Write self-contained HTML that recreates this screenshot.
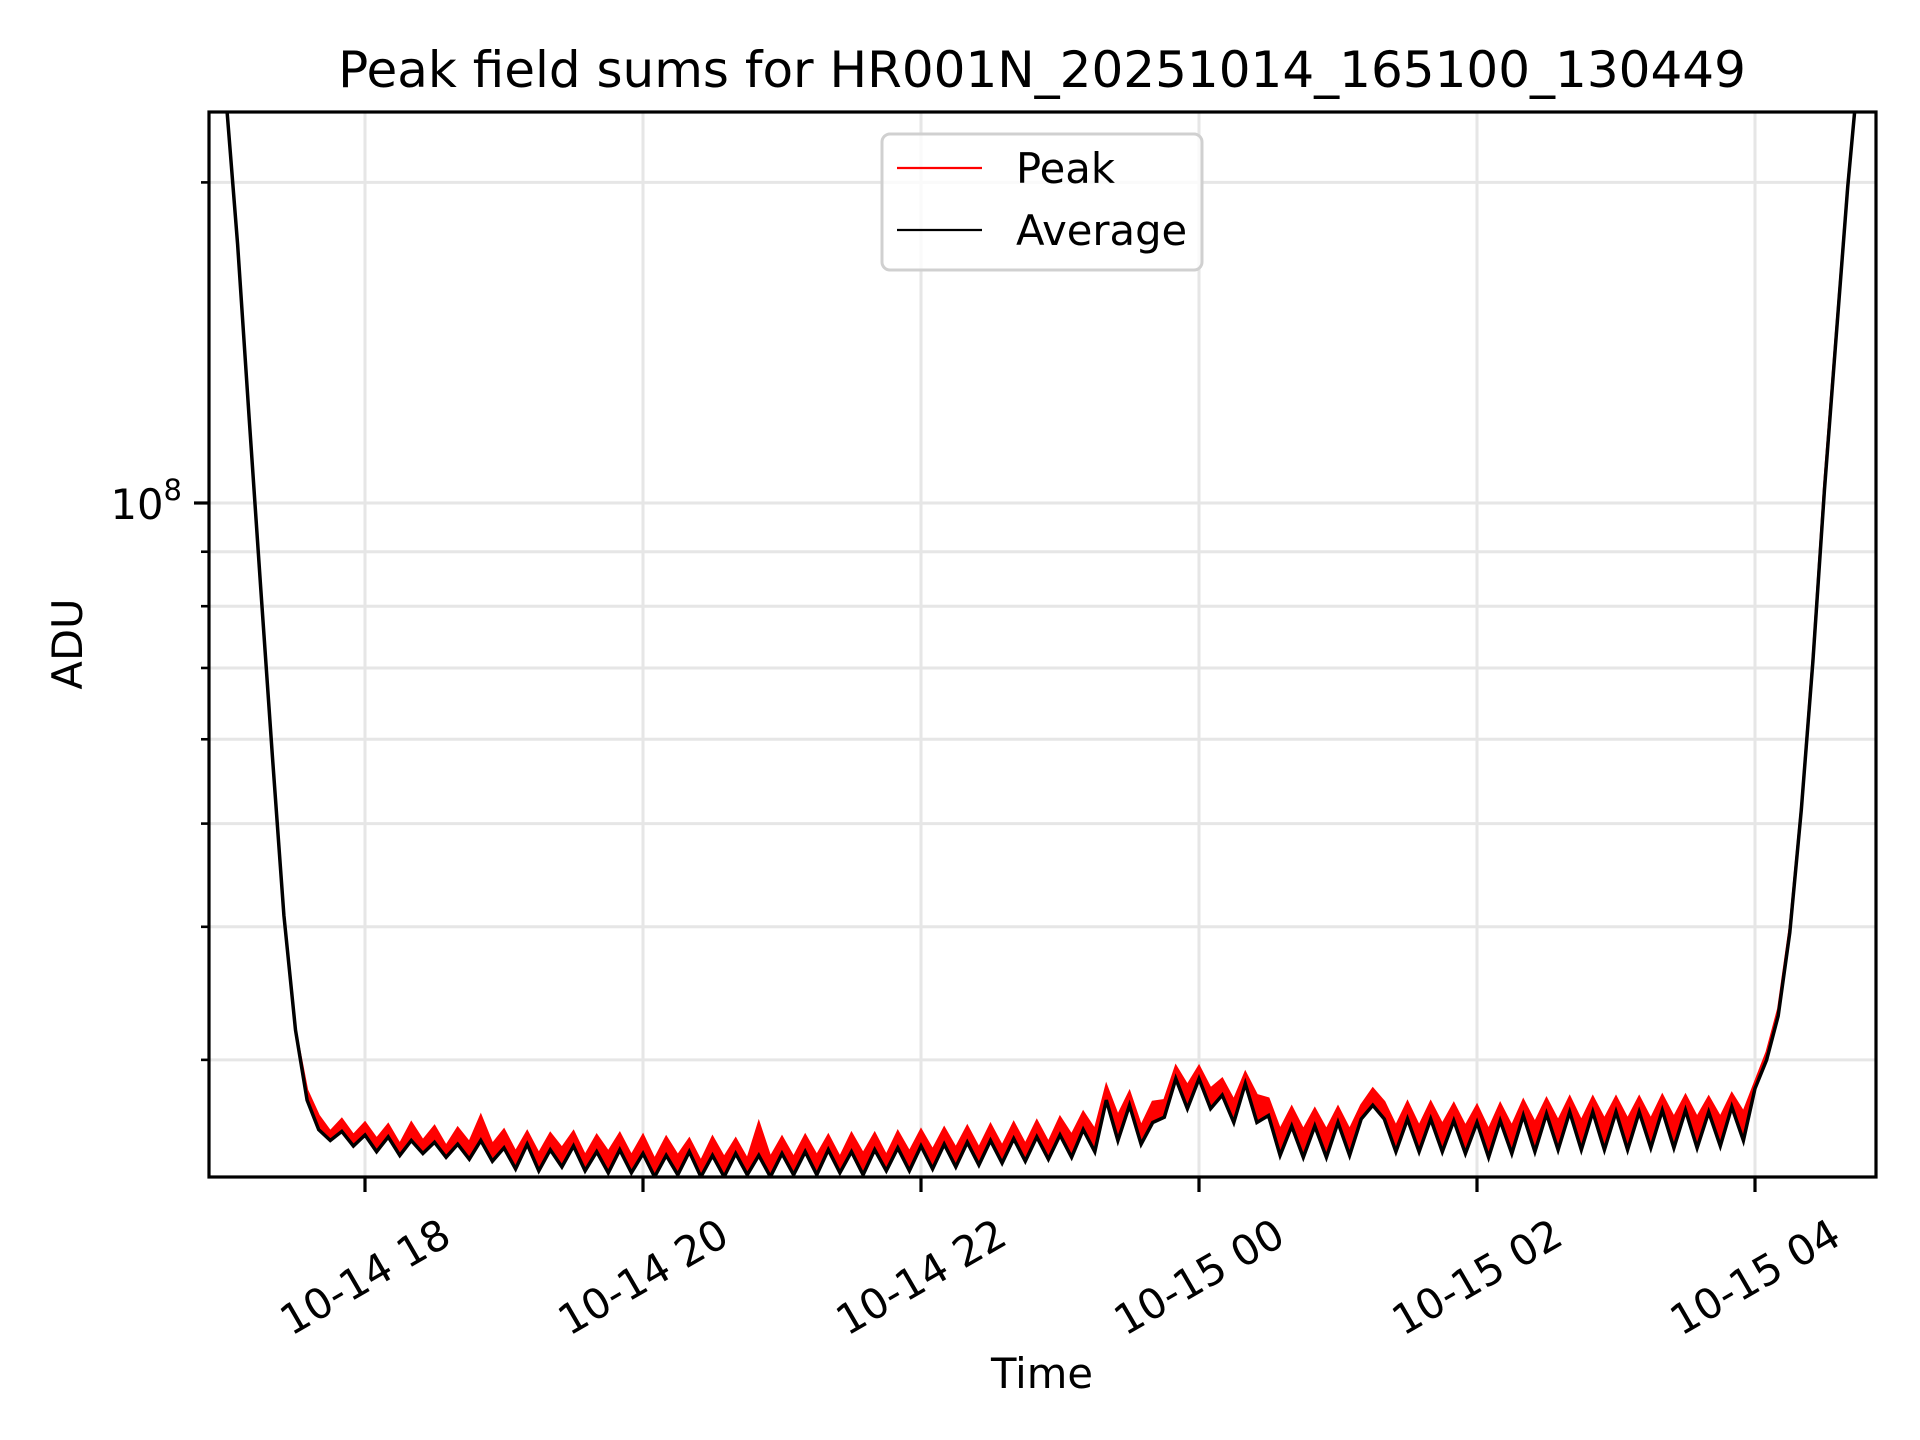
<!DOCTYPE html>
<html><head><meta charset="utf-8"><style>
html,body{margin:0;padding:0;background:#fff;}
svg{display:block;font-family:"DejaVu Sans","Liberation Sans",sans-serif;}
</style></head><body>
<svg id="chart" width="1920" height="1440" viewBox="0 0 1920 1440" xmlns="http://www.w3.org/2000/svg">
<defs><clipPath id="plotclip"><rect x="209" y="112" width="1667" height="1065"/></clipPath></defs>
<rect x="0" y="0" width="1920" height="1440" fill="#fff"/>
<g id="grid"></g>
<g id="series" clip-path="url(#plotclip)"></g>
<rect x="209" y="112" width="1667" height="1065" fill="none" stroke="#000" stroke-width="3.2"/>
<g id="ticks"></g>
<text x="1042" y="87" font-size="50" text-anchor="middle">Peak field sums for HR001N_20251014_165100_130449</text>
<text x="1042" y="1388" font-size="41.7" text-anchor="middle">Time</text>
<text transform="translate(82,644) rotate(-90)" font-size="41.7" text-anchor="middle">ADU</text>
<g>
<rect x="882" y="134" width="320" height="136" rx="8" fill="#fff" fill-opacity="0.8" stroke="#d0d0d0" stroke-width="3"/>
<line x1="897" y1="168" x2="982" y2="168" stroke="#ff0000" stroke-width="2.2"/>
<text x="1016" y="183" font-size="41.7">Peak</text>
<line x1="897" y1="230" x2="982" y2="230" stroke="#000" stroke-width="2.2"/>
<text x="1016" y="245" font-size="41.7">Average</text>
</g>
</svg>
<script>
// time points: 5-minute samples starting 16:55 (minutes after 18:00)
const startMin = -65;
const stepMin = 5;
// values in units of 1e7 ADU
const peakValues = [30,24,17.5,12,8.3,5.8,4.1,3.2,2.81,
2.66,2.57,2.64,2.55,
2.62,2.53,2.61,2.50,2.62,2.52,2.60,2.49,2.59,2.51,2.66,2.50,
2.58,2.46,2.57,2.45,2.56,2.48,2.57,2.44,2.55,2.46,2.56,2.44,
2.55,2.42,2.54,2.44,2.53,2.41,2.54,2.43,2.53,2.42,2.62,2.43,
2.54,2.43,2.55,2.44,2.55,2.43,2.56,2.45,2.56,2.44,2.57,2.46,
2.58,2.47,2.59,2.48,2.60,2.48,2.61,2.49,2.62,2.50,2.63,2.51,
2.65,2.55,2.68,2.58,2.84,2.66,2.80,2.60,2.74,2.75,2.96,2.84,
2.96,2.82,2.88,2.75,2.92,2.78,2.76,2.58,2.71,2.58,2.70,2.58,
2.71,2.58,2.72,2.82,2.74,2.60,2.74,2.60,2.74,2.61,2.73,2.60,
2.72,2.58,2.73,2.60,2.75,2.62,2.76,2.63,2.77,2.63,2.77,2.64,
2.77,2.64,2.77,2.64,2.78,2.65,2.78,2.65,2.77,2.65,2.79,2.68,
2.86,3.05,3.35,4.0,5.2,7.2,10.5,14.5,20,26,32,38];
const averageValues = [30,24,17.5,12,8.3,5.8,4.1,3.2,2.75,
2.58,2.52,2.57,2.49,
2.55,2.46,2.54,2.44,2.52,2.45,2.51,2.43,2.50,2.42,2.52,2.41,
2.48,2.37,2.50,2.36,2.47,2.38,2.49,2.36,2.46,2.35,2.47,2.35,
2.45,2.33,2.44,2.34,2.46,2.33,2.44,2.33,2.45,2.34,2.44,2.33,
2.45,2.34,2.46,2.34,2.47,2.35,2.46,2.34,2.47,2.36,2.48,2.36,
2.49,2.37,2.50,2.38,2.51,2.39,2.52,2.40,2.53,2.41,2.54,2.42,
2.55,2.43,2.58,2.46,2.75,2.52,2.72,2.50,2.62,2.65,2.88,2.70,
2.88,2.70,2.78,2.62,2.85,2.62,2.66,2.44,2.60,2.43,2.60,2.43,
2.62,2.44,2.64,2.72,2.64,2.46,2.64,2.46,2.64,2.46,2.63,2.45,
2.62,2.43,2.63,2.45,2.66,2.46,2.67,2.47,2.68,2.47,2.68,2.47,
2.68,2.47,2.68,2.48,2.69,2.48,2.69,2.48,2.68,2.49,2.71,2.52,
2.82,3.0,3.3,3.95,5.15,7.1,10.3,14.3,19.8,26,32,38];
const xTickHours = [0,2,4,6,8,10];
const xTickLabels = ["10-14 18","10-14 20","10-14 22","10-15 00","10-15 02","10-15 04"];
const yMinorTicks = [2e8,9e7,8e7,7e7,6e7,5e7,4e7,3e7];

const NS = "http://www.w3.org/2000/svg";
function xScale(minutes){ return 365 + minutes * (139/60); }
function yScale(v){ return 503 - (Math.log10(v) - 8) * 1065; }
function mk(tag, attrs, parent){
  const e = document.createElementNS(NS, tag);
  for (const k in attrs) e.setAttribute(k, attrs[k]);
  parent.appendChild(e); return e;
}
const grid = document.getElementById('grid');
const ticks = document.getElementById('ticks');
const series = document.getElementById('series');

xTickHours.forEach((h, i) => {
  const x = xScale(h*60);
  const g = mk('line', {x1:x, y1:112, x2:x, y2:1177, stroke:'#e6e6e6', 'stroke-width':3}, grid);
  
  
  const t = mk('line', {x1:x, y1:1177, x2:x, y2:1192, stroke:'#000', 'stroke-width':3.2}, ticks);
  
  
  const lb = mk('text', {x:0, y:0, 'font-size':41.7, 'text-anchor':'middle', 'dominant-baseline':'central',
    transform:'translate(' + x + ',1277) rotate(-30)'}, ticks);
  lb.textContent = xTickLabels[i];
  
  
});
[1e8].concat(yMinorTicks).forEach(v => {
  const y = yScale(v);
  const g = mk('line', {x1:209, y1:y, x2:1876, y2:y, stroke:'#e6e6e6', 'stroke-width':3}, grid);
  
  
  const major = v === 1e8;
  const t = mk('line', {x1:major ? 194 : 201, y1:y, x2:209, y2:y, stroke:'#000', 'stroke-width':major ? 3.2 : 2.6}, ticks);
  
  
});
const yl = mk('text', {x:182, y:yScale(1e8)+16, 'font-size':41.7, 'text-anchor':'end'}, ticks);
yl.innerHTML = '10<tspan font-size="29" dy="-19">8</tspan>';



function pts(vals){
  return vals.map((v, i) => xScale(startMin + i*stepMin).toFixed(1) + ',' + yScale(v*1e7).toFixed(1));
}
// red band between peak and average
const band = mk('polygon', {points: pts(peakValues).concat(pts(averageValues).reverse()).join(' '), fill:'#ff0000', stroke:'none'}, series);


function drawLine(vals, color, name, w){
  const p = mk('polyline', {points:pts(vals).join(' '), fill:'none', stroke:color, 'stroke-width':w, 'stroke-linejoin':'miter'}, series);
  
  
}
drawLine(peakValues, '#ff0000', 'peak-series', 2.2);
drawLine(averageValues, '#000000', 'average-series', 3.5);
</script>
</body></html>
